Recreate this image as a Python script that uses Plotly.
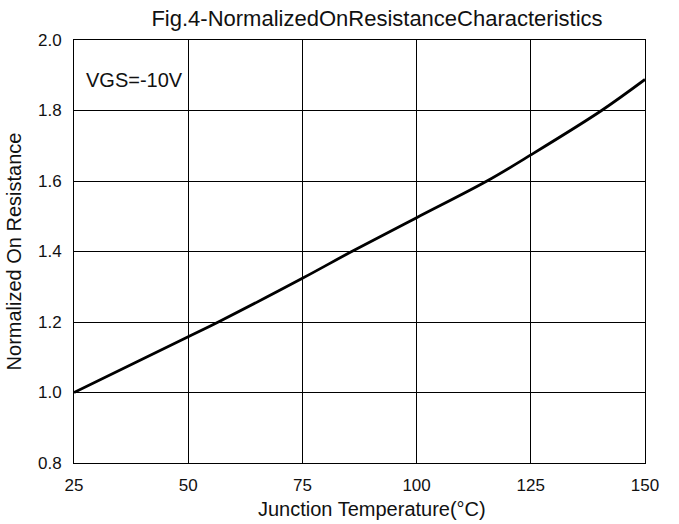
import plotly.graph_objects as go

temperature = [25, 50, 56.6, 75, 85.8, 100, 115.4, 125, 140.5, 150]
normalized_r = [1.0, 1.158, 1.2, 1.324, 1.4, 1.496, 1.6, 1.674, 1.8, 1.888]
x_ticks = [25, 50, 75, 100, 125, 150]
y_ticks = [0.8, 1.0, 1.2, 1.4, 1.6, 1.8, 2.0]

FONT = "Liberation Sans, Arial, sans-serif"
TXT = "#111"

fig = go.Figure()
fig.add_trace(go.Scatter(
    x=temperature, y=normalized_r, mode="lines",
    line=dict(color="black", width=2.8, shape="spline", smoothing=1.0),
    showlegend=False, hoverinfo="skip",
))

axis_common = dict(
    showgrid=True, gridcolor="black", gridwidth=1,
    showline=True, linecolor="black", linewidth=1, mirror=True,
    zeroline=False, ticks="", automargin=False,
    tickfont=dict(family=FONT, size=17, color=TXT),
)

fig.update_layout(
    width=679, height=524,
    paper_bgcolor="white", plot_bgcolor="white",
    margin=dict(l=74, r=34, t=40, b=61),
    title=dict(text="Fig.4-NormalizedOnResistanceCharacteristics",
               font=dict(family=FONT, size=22, color=TXT),
               x=377/679, xanchor="center", y=1 - 18/524, yanchor="middle"),
    xaxis=dict(range=[25, 150], tickvals=x_ticks, ticktext=[str(v) for v in x_ticks],
               ticklabelstandoff=7, **axis_common),
    yaxis=dict(range=[0.8, 2.0], tickvals=y_ticks, ticktext=[f"{v:.1f}" for v in y_ticks],
               ticklabelstandoff=8,
               title=dict(text="Normalized On Resistance", font=dict(family=FONT, size=20, color=TXT), standoff=10),
               **axis_common),
    font=dict(family=FONT),
)

# x-axis title (slightly right of centre, as in the reference)
fig.add_annotation(text="Junction Temperature(°C)", x=(372 - 74) / 571, y=-46 / 423,
                   xref="paper", yref="paper", xanchor="center", yanchor="middle",
                   showarrow=False, font=dict(family=FONT, size=20, color=TXT))

fig.add_annotation(text="VGS=-10V", x=0.018, y=0.905, xref="paper", yref="paper",
                   xanchor="left", yanchor="middle", showarrow=False,
                   font=dict(family=FONT, size=20, color=TXT))

fig.write_html("out.html", config={"displayModeBar": False},
               post_script="document.body.style.margin='0';document.body.style.padding='0';")
